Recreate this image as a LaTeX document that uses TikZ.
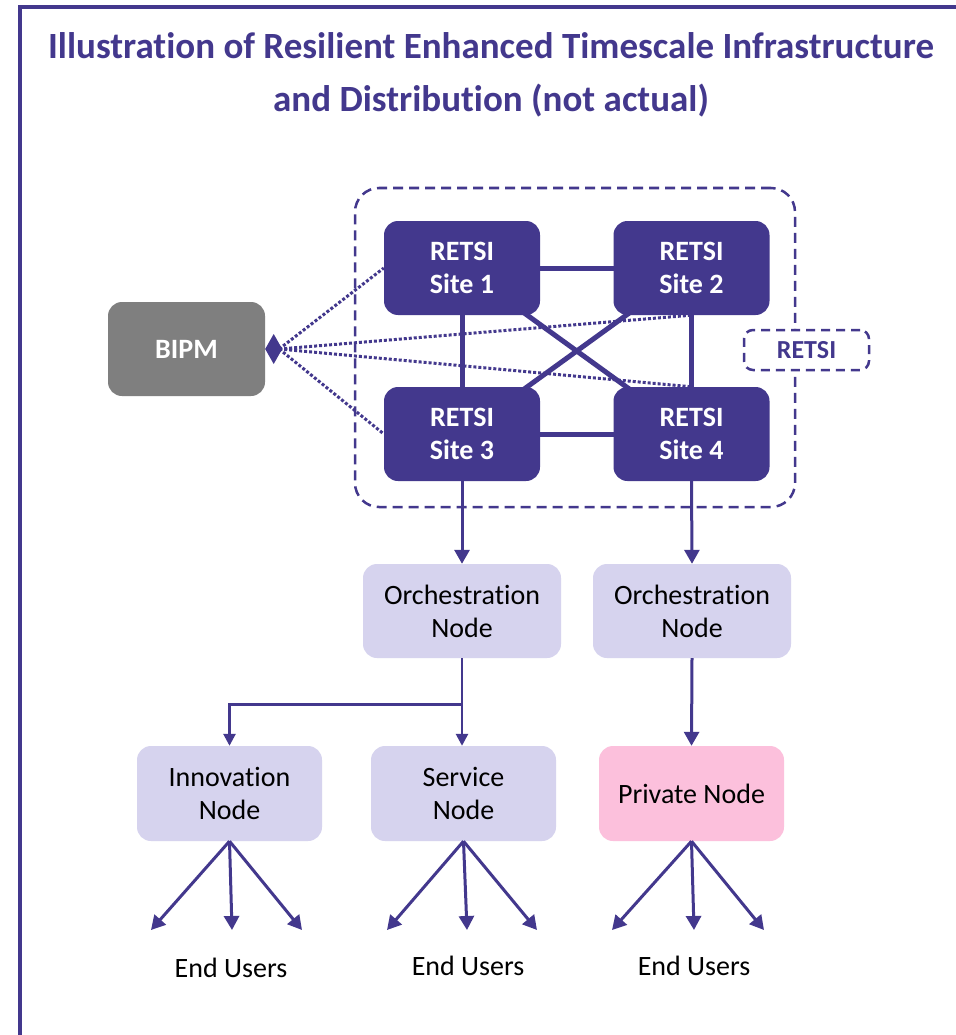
\documentclass[tikz,border=0pt]{standalone}
\usepackage{fontspec}
\setmainfont{Carlito}[Ligatures={NoCommon}]
\usetikzlibrary{arrows.meta,backgrounds}
\definecolor{pur}{RGB}{67,56,141}
\definecolor{lav}{RGB}{214,211,238}
\definecolor{pinkish}{RGB}{252,192,220}
\definecolor{graybox}{RGB}{127,127,127}
\tikzset{
  site/.style={fill=pur, text=white, font=\fontsize{28}{33}\selectfont\bfseries, rounded corners=14pt, minimum width=156pt, minimum height=94pt, inner sep=0pt, align=center},
  lavbox/.style={fill=lav, text=black, font=\fontsize{28}{33}\selectfont, rounded corners=14pt, minimum width=198pt, minimum height=94pt, inner sep=0pt, align=center},
  leafbox/.style={lavbox, minimum width=185pt, minimum height=95pt},
  link/.style={draw=pur, line width=5pt},
  dotlink/.style={draw=pur, line width=3pt, dash pattern=on 3pt off 2pt},
  arr/.style={draw=pur, line width=3pt, -{Triangle[length=14pt,width=15pt]}},
  eu/.style={font=\fontsize{28}{33}\selectfont, text=black, inner sep=0pt},
  grpbox/.style={draw=pur, line width=2.5pt, dash pattern=on 10pt off 6pt, rounded corners=24pt, minimum width=440pt, minimum height=319pt, inner sep=0pt},
}
\begin{document}
\begin{tikzpicture}[x=1pt,y=-1pt]
\useasboundingbox (0,0) rectangle (955,1035);
% frame
\draw[pur, line width=3.5pt] (20,1040) -- (20,7) -- (960,7);
% title
\node[text=pur, font=\fontsize{37}{53}\selectfont\bfseries, align=center] (title) at (491,75)
  {Illustration of Resilient Enhanced Timescale Infrastructure\\and Distribution (not actual)};
% group
\node[grpbox] (grp) at (575,347.5) {};
\node[draw=pur, line width=2.5pt, dash pattern=on 9pt off 6pt, rounded corners=9pt, fill=white,
  minimum width=125pt, minimum height=40pt, inner sep=0pt, text=pur,
  font=\fontsize{26}{30}\selectfont\bfseries] (glabel) at (806.5,350) {RETSI};
% sites
\node[site] (s1) at (462,268) {RETSI\\Site 1};
\node[site] (s2) at (691.5,268) {RETSI\\Site 2};
\node[site] (s3) at (462,434) {RETSI\\Site 3};
\node[site] (s4) at (691.5,434) {RETSI\\Site 4};
\begin{scope}[on background layer]
  \fill[white] (0,0) rectangle (955,1035);
  \draw[link] (s1.center) -- (s2.center);
  \draw[link] (s3.center) -- (s4.center);
  \draw[link] (s1.center) -- (s3.center);
  \draw[link] (s2.center) -- (s4.center);
  \draw[link] (s1.center) -- (s4.center);
  \draw[link] (s2.center) -- (s3.center);
\end{scope}
% BIPM
\node[fill=graybox, text=white, font=\fontsize{28}{33}\selectfont\bfseries, rounded corners=14pt,
  minimum width=157pt, minimum height=94pt, inner sep=0pt] (bipm) at (186.5,349) {BIPM};
\coordinate (dj) at ([xshift=14pt]bipm.east);
\draw[dotlink] (dj) -- (s1.west);
\draw[dotlink] (dj) -- (s2.south);
\draw[dotlink] (dj) -- (s4.north);
\draw[dotlink] (dj) -- (s3.west);
\fill[pur] (bipm.east) -- ++(8.5,-15) -- ++(8.5,15) -- ++(-8.5,15) -- cycle;
% orchestration
\node[lavbox] (o1) at (462,611) {Orchestration\\Node};
\node[lavbox] (o2) at (692,611) {Orchestration\\Node};
\draw[arr] (s3.south) -- (o1.north);
\draw[arr] (s4.south) -- (o2.north);
% leaves
\node[leafbox] (inn) at (229.5,793.5) {Innovation\\Node};
\node[leafbox] (srv) at (463.5,793.5) {Service\\Node};
\node[leafbox, fill=pinkish] (prv) at (691.5,793.5) {Private Node};
\draw[arr, line width=2.6pt, -{Triangle[length=12pt,width=12pt]}] (o1.south) -- ++(0,46) -| (inn.north);
\draw[arr, line width=2.6pt, -{Triangle[length=12pt,width=12pt]}] (o1.south) -- (o1.south |- srv.north);
\draw[arr] (o2.south) -- (prv.north);
% end users
\coordinate (ia) at (151,930); \coordinate (ib) at (232,930); \coordinate (ic) at (302,930);
\coordinate (sa) at (387,930); \coordinate (sb) at (467,930); \coordinate (sc) at (537,930);
\coordinate (pa) at (612,930); \coordinate (pb) at (694,930); \coordinate (pc) at (764,930);
\draw[arr] (inn.south) -- (ia);
\draw[arr] (inn.south) -- (ib);
\draw[arr] (inn.south) -- (ic);
\draw[arr] (srv.south) -- (sa);
\draw[arr] (srv.south) -- (sb);
\draw[arr] (srv.south) -- (sc);
\draw[arr] (prv.south) -- (pa);
\draw[arr] (prv.south) -- (pb);
\draw[arr] (prv.south) -- (pc);
\node[eu] (eu1) at (231,968) {End Users};
\node[eu] (eu2) at (468,966) {End Users};
\node[eu] (eu3) at (694,966) {End Users};
\end{tikzpicture}
\end{document}
